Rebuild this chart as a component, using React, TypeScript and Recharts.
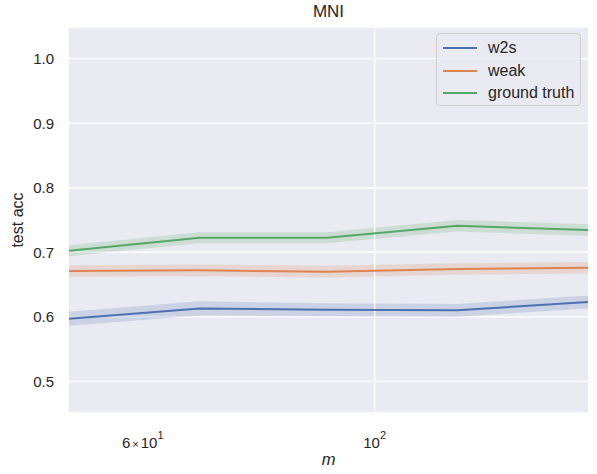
import {
  Area,
  CartesianGrid,
  ComposedChart,
  Line,
  ReferenceLine,
  XAxis,
  YAxis,
} from "recharts";

const m = [51, 68, 90, 120, 160];
const w2s = [0.597, 0.613, 0.611, 0.61, 0.623];
const w2sCi = [0.011, 0.011, 0.01, 0.01, 0.01];
const weak = [0.671, 0.672, 0.67, 0.674, 0.676];
const weakCi = [0.009, 0.009, 0.009, 0.009, 0.009];
const truth = [0.7025, 0.7225, 0.7225, 0.741, 0.7345];
const truthCi = [0.0085, 0.0085, 0.0085, 0.009, 0.009];

const yTicks = [0.5, 0.6, 0.7, 0.8, 0.9, 1.0];
const xTicks = [60, 100];

const series = [
  { key: "w2s", name: "w2s", color: "#4c72b0" },
  { key: "weak", name: "weak", color: "#dd8452" },
  { key: "truth", name: "ground truth", color: "#55a868" },
];

const data = m.map((x, i) => ({
  m: x,
  w2s: w2s[i],
  w2sBand: [w2s[i] - w2sCi[i], w2s[i] + w2sCi[i]],
  weak: weak[i],
  weakBand: [weak[i] - weakCi[i], weak[i] + weakCi[i]],
  truth: truth[i],
  truthBand: [truth[i] - truthCi[i], truth[i] + truthCi[i]],
}));

const FONT = '"Liberation Sans", Arial, sans-serif';
const TEXT = "#262626";

function LogTick(props: any) {
  const { x, y, payload } = props;
  const v: number = payload.value;
  const exp = Math.floor(Math.log10(v) + 1e-9);
  const mant = Math.round(v / Math.pow(10, exp));
  return (
    <text
      x={x}
      y={y + 27}
      textAnchor="middle"
      fill={TEXT}
      fontSize={15}
      fontFamily={FONT}
    >
      {mant === 1 ? (
        <tspan>10</tspan>
      ) : (
        <>
          <tspan>{mant}</tspan>
          <tspan fontSize={11} dx={2}>{"\u00d7"}</tspan>
          <tspan dx={2}>10</tspan>
        </>
      )}
      <tspan dy={-9} fontSize={11}>
        {exp}
      </tspan>
    </text>
  );
}

export default function App() {
  return (
    <div
      style={{
        position: "absolute",
        left: 0,
        top: 0,
        width: 597,
        height: 474,
        background: "#fff",
        fontFamily: FONT,
        color: TEXT,
      }}
    >
      <ComposedChart
        width={597}
        height={474}
        data={data}
        margin={{ top: 27, right: 9, bottom: 21, left: 9 }}
      >
        <CartesianGrid
          fill="#eaeaf2"
          stroke="#ffffff"
          strokeWidth={1.3}
          vertical={false}
        />
        <ReferenceLine x={100} stroke="#ffffff" strokeWidth={1.3} />
        <XAxis
          dataKey="m"
          type="number"
          scale="log"
          domain={[51, 160]}
          ticks={xTicks}
          tick={<LogTick />}
          tickLine={false}
          axisLine={false}
          height={40}
          allowDataOverflow
        />
        <YAxis
          type="number"
          domain={[0.451, 1.049]}
          ticks={yTicks}
          tickFormatter={(v: number) => v.toFixed(1)}
          tick={{ fill: TEXT, fontSize: 15, fontFamily: FONT }}
          tickLine={false}
          axisLine={false}
          tickSize={0}
          tickMargin={15}
          width={60}
          allowDataOverflow
        />
        {series.map((s) => (
          <Area
            key={s.key + "Band"}
            type="linear"
            dataKey={s.key + "Band"}
            stroke="none"
            fill={s.color}
            fillOpacity={0.2}
            isAnimationActive={false}
          />
        ))}
        {series.map((s) => (
          <Line
            key={s.key}
            type="linear"
            dataKey={s.key}
            stroke={s.color}
            strokeWidth={2}
            dot={false}
            isAnimationActive={false}
          />
        ))}
      </ComposedChart>

      <div
        style={{
          position: "absolute",
          left: 69,
          width: 519,
          top: 2,
          textAlign: "center",
          fontSize: 17,
        }}
      >
        MNI
      </div>
      <div
        style={{
          position: "absolute",
          left: 18,
          top: 220,
          transform: "translate(-50%, -50%) rotate(-90deg)",
          fontSize: 16,
          whiteSpace: "nowrap",
        }}
      >
        test acc
      </div>
      <div
        style={{
          position: "absolute",
          left: 69,
          width: 519,
          top: 450,
          textAlign: "center",
          fontSize: 16.5,
          fontStyle: "italic",
        }}
      >
        m
      </div>

      <div
        style={{
          position: "absolute",
          left: 436,
          top: 33,
          width: 145,
          height: 73,
          boxSizing: "border-box",
          border: "1px solid #cccccc",
          borderRadius: 4,
          background: "rgba(234,234,242,0.8)",
          padding: "3px 0 0 6px",
          fontSize: 16,
        }}
      >
        {series.map((s) => (
          <div
            key={s.key}
            style={{ display: "flex", alignItems: "center", height: 22.5 }}
          >
            <span
              style={{
                display: "inline-block",
                width: 34,
                height: 2,
                background: s.color,
                marginRight: 11,
              }}
            />
            <span>{s.name}</span>
          </div>
        ))}
      </div>
    </div>
  );
}
